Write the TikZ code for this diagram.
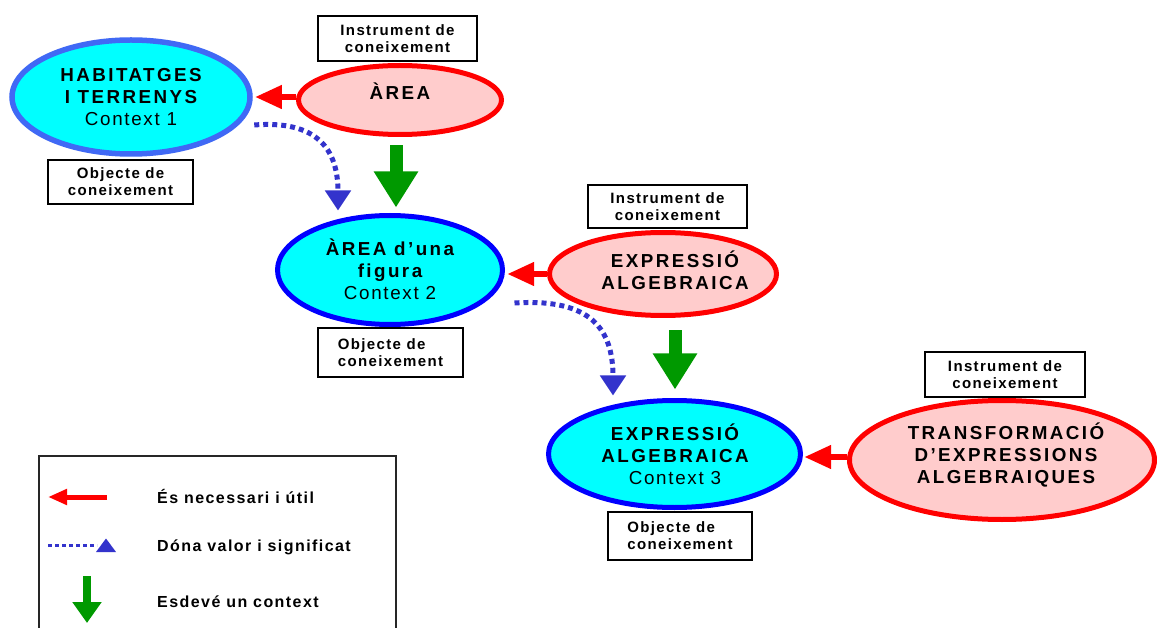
\documentclass[tikz,border=0pt]{standalone}
\usepackage{fontspec}
\setmainfont{Liberation Sans}
\newfontfamily\ttlfont{Liberation Sans}[LetterSpace=13]
\newfontfamily\ctxfont{Liberation Sans}[LetterSpace=9]
\newfontfamily\boxfont{Liberation Sans}[LetterSpace=9]
\usetikzlibrary{shapes.geometric,arrows.meta,calc}
\definecolor{cyanfill}{RGB}{0,255,255}
\definecolor{pinkfill}{RGB}{255,204,204}
\definecolor{habblue}{RGB}{64,105,245}
\definecolor{pureblue}{RGB}{0,0,255}
\definecolor{pured}{RGB}{255,0,0}
\definecolor{arrgreen}{RGB}{0,153,0}
\definecolor{dotblue}{RGB}{51,51,204}
\tikzset{
  ell/.style={ellipse, line width=5pt, inner sep=0pt},
  objell/.style={ell, fill=cyanfill, draw=pureblue},
  insell/.style={ell, fill=pinkfill, draw=pured},
  ttl/.style={font=\ttlfont\bfseries\fontsize{18.8}{22}\selectfont, align=center, inner sep=0pt},
  labbox/.style={draw=black, line width=1.2pt, font=\boxfont\bfseries\fontsize{15}{17}\selectfont, inner sep=0pt},
  legtext/.style={font=\boxfont\bfseries\fontsize{16}{18}\selectfont, anchor=base west, inner sep=0pt},
  redarrow/.style={draw=pured, line width=6.7pt, -{Triangle[length=27pt,width=22pt]}},
  greenarrow/.style={draw=arrgreen, line width=13pt, -{Triangle[length=36pt,width=42pt]}},
  dotarrow/.style={draw=dotblue, line width=5pt, dash pattern=on 5pt off 4pt, -{Triangle[length=20pt,width=25pt]}},
}
\begin{document}
\begin{tikzpicture}[x=1pt,y=-1pt]
\useasboundingbox (0,0) rectangle (1157,628);
\fill[white] (0,0) rectangle (1157,628);
\begin{scope}
\clip (0,0) rectangle (1157,628);
% ellipses
\node[ell, fill=cyanfill, draw=habblue, line width=5.5pt, minimum width=238pt, minimum height=114pt] (hab) at (131,97) {};
\node[insell, minimum width=203pt, minimum height=69pt] (area) at (400,100) {};
\node[objell, minimum width=225pt, minimum height=109pt] (fig) at (390,270) {};
\node[insell, minimum width=227pt, minimum height=83pt] (expr) at (663,274) {};
\node[objell, minimum width=252pt, minimum height=107pt] (expr3) at (674.5,454) {};
\node[insell, minimum width=305pt, minimum height=119pt] (trans) at (1002,460) {};
% ellipse texts
\node[ttl] (habt) at (131,97.5) {HABITATGES\\I TERRENYS\\{\ctxfont\mdseries Context 1}};
\node[ttl, anchor=base] (areat) at (400,100) {ÀREA};
\node[ttl] (figt) at (390,269.5) {ÀREA d’una\\figura\\{\ctxfont\mdseries Context 2}};
\node[ttl] (exprt) at (675,270.5) {EXPRESSIÓ\\ALGEBRAICA};
\node[ttl] (expr3t) at (675,454.5) {EXPRESSIÓ\\ALGEBRAICA\\{\ctxfont\mdseries Context 3}};
\node[ttl] (transt) at (1006,455.5) {TRANSFORMACIÓ\\D’EXPRESSIONS\\ALGEBRAIQUES};
% label boxes
\node[labbox, align=center, minimum width=159pt, minimum height=45pt] (inst1) at (397.5,38.5) {Instrument de\\coneixement};
\node[labbox, align=center, minimum width=145pt, minimum height=44pt] (obj1) at (120.5,182) {Objecte de\\coneixement};
\node[labbox, align=center, minimum width=159pt, minimum height=43pt] (inst2) at (667.5,206.5) {Instrument de\\coneixement};
\node[labbox, align=left, minimum width=145pt, minimum height=49pt] (obj2) at (390.5,352.5) {Objecte de\\coneixement};
\node[labbox, align=center, minimum width=160pt, minimum height=45pt] (inst3) at (1005,374.5) {Instrument de\\coneixement};
\node[labbox, align=left, minimum width=144pt, minimum height=48pt] (obj3) at (680,536) {Objecte de\\coneixement};
% connectors
\draw[redarrow] ($(area.west)+(0,-3)$) -- ($(hab.east)+(2,0)$);
\draw[redarrow] (expr.west) -- ($(fig.east)+(2,4)$);
\draw[redarrow] ($(trans.west)+(0,-3)$) -- ($(expr3.east)+(1,3)$);
\draw[greenarrow] ($(area.south)+(-4,8.5)$) -- ($(fig.north)+(6,-5.5)$);
\draw[greenarrow] ($(expr.south)+(12,12.5)$) -- ($(expr3.north)+(0.5,-8.5)$);
\draw[dotarrow] ($(hab.east)+(1.5,28)$) .. controls (318,120) and (338,150) .. ($(fig.north)+(-52,-2.5)$);
\draw[dotarrow] ($(fig.east)+(9.5,33)$) .. controls (592,298) and (613,330) .. ($(expr3.north)+(-61.5,-2.5)$);
% legend
\node[draw=black!85, line width=1.2pt, minimum width=357pt, minimum height=210pt, inner sep=0pt] (legend) at (217.5,561) {};
\coordinate (l1a) at (107,497);
\coordinate (l1b) at (48,497);
\draw[draw=pured, line width=5pt, -{Triangle[length=19pt,width=15pt]}] (l1a) -- (l1b);
\node[legtext] (leg1) at (157,503) {És necessari i útil};
\coordinate (l2a) at (48,545.5);
\coordinate (l2b) at (97,545.5);
\draw[draw=dotblue, line width=3.5pt, dash pattern=on 4pt off 3pt] (l2a) -- (l2b);
\fill[dotblue] (96,552) -- (116,552) -- (106,538.5) -- cycle;
\node[legtext] (leg2) at (157,551) {Dóna valor i significat};
\coordinate (l3a) at (87,576);
\coordinate (l3b) at (87,623);
\draw[draw=arrgreen, line width=8pt, -{Triangle[length=21pt,width=28pt]}] (l3a) -- (l3b);
\node[legtext] (leg3) at (157,607) {Esdevé un context};
\end{scope}
\end{tikzpicture}
\end{document}
